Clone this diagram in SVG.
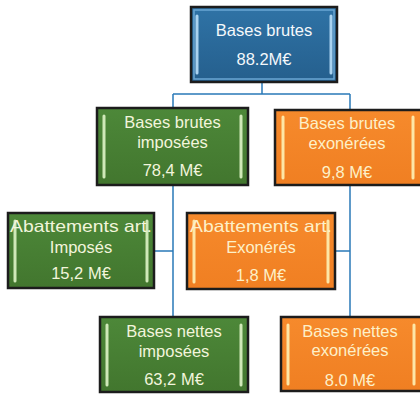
<svg xmlns="http://www.w3.org/2000/svg" width="420" height="394" viewBox="0 0 420 394">
<defs>
<linearGradient id="gBlue" x1="0" y1="0" x2="0" y2="1"><stop offset="0" stop-color="#2f73a6"/><stop offset="1" stop-color="#255f8d"/></linearGradient>
<linearGradient id="gGreen" x1="0" y1="0" x2="0" y2="1"><stop offset="0" stop-color="#4d8839"/><stop offset="1" stop-color="#42762e"/></linearGradient>
<linearGradient id="gOrange" x1="0" y1="0" x2="0" y2="1"><stop offset="0" stop-color="#f68a2c"/><stop offset="1" stop-color="#f07f22"/></linearGradient>
</defs>
<style>
.box{stroke:#1c1c1c;stroke-width:2.5}
.blue{fill:url(#gBlue)}
.green{fill:url(#gGreen)}
.orange{fill:url(#gOrange)}
.bar{stroke-width:3;stroke-linecap:round;fill:none}
.blue-bar{stroke:#a9d2ef}
.green-bar{stroke:#cfe8b8}
.orange-bar{stroke:#fde6a6}
.inner-blue{fill:none;stroke:#6aa6d3;stroke-width:1.5}
.t{font-family:"Liberation Sans",Arial,sans-serif;font-size:16.5px;text-anchor:middle}
.tw{fill:#f4f8fb}
.tg{fill:#f2f5dc}
.to{fill:#fdf0c8}
.conn{stroke:#2a7ab8;stroke-width:1.5;fill:none}
</style>
<rect width="420" height="394" fill="#ffffff"/>
<g id="connectors">
<path class="conn" d="M262,82 V94 M173,94 H350 M173,94 V108 M350,94 V110"/>
<path class="conn" d="M173,185 V317 M154,251 H173"/>
<path class="conn" d="M350,185 V317 M335,251 H350"/>
</g>
<g id="n-bases-brutes">
<rect class="box blue" x="191" y="7" width="146" height="75"/>
<rect class="inner-blue" x="194" y="10" width="140" height="69"/>
<path class="bar blue-bar" d="M197,16 V73 M331,16 V73"/>
<text class="t tw" x="264" y="36">Bases brutes</text>
<text class="t tw" x="264" y="65">88.2M€</text>
</g>
<g id="n-brutes-imposees">
<rect class="box green" x="97" y="108" width="151" height="77"/>
<path class="bar green-bar" d="M104,116 V177 M241,116 V177"/>
<text class="t tg" x="172.5" y="128">Bases brutes</text>
<text class="t tg" x="172.5" y="148">imposées</text>
<text class="t tg" x="172.5" y="176">78,4 M€</text>
</g>
<g id="n-brutes-exonerees">
<rect class="box orange" x="275" y="110" width="148" height="75"/>
<path class="bar orange-bar" d="M283,117 V178 M413,117 V178"/>
<text class="t to" x="347" y="129">Bases brutes</text>
<text class="t to" x="347" y="149">exonérées</text>
<text class="t to" x="347" y="178">9,8 M€</text>
</g>
<g id="n-abat-imposes">
<rect class="box green" x="8" y="213" width="146" height="75"/>
<path class="bar green-bar" d="M15,221 V281 M147,221 V281"/>
<text class="t tg" x="81" y="232" textLength="142" lengthAdjust="spacingAndGlyphs">Abattements art.</text>
<text class="t tg" x="81" y="253">Imposés</text>
<text class="t tg" x="81" y="279">15,2 M€</text>
</g>
<g id="n-abat-exoneres">
<rect class="box orange" x="187" y="213" width="148" height="76"/>
<path class="bar orange-bar" d="M194,221 V282 M328,221 V282"/>
<text class="t to" x="261" y="232" textLength="142" lengthAdjust="spacingAndGlyphs">Abattements art.</text>
<text class="t to" x="261" y="253">Exonérés</text>
<text class="t to" x="261" y="281">1,8 M€</text>
</g>
<g id="n-nettes-imposees">
<rect class="box green" x="100" y="317" width="148" height="75"/>
<path class="bar green-bar" d="M107,325 V385 M241,325 V385"/>
<text class="t tg" x="174" y="337">Bases nettes</text>
<text class="t tg" x="174" y="357">imposées</text>
<text class="t tg" x="174" y="385">63,2 M€</text>
</g>
<g id="n-nettes-exonerees">
<rect class="box orange" x="281" y="317" width="142" height="74"/>
<path class="bar orange-bar" d="M288,325 V384 M414,325 V384"/>
<text class="t to" x="350" y="337">Bases nettes</text>
<text class="t to" x="350" y="356">exonérées</text>
<text class="t to" x="350" y="386">8.0 M€</text>
</g>
</svg>
